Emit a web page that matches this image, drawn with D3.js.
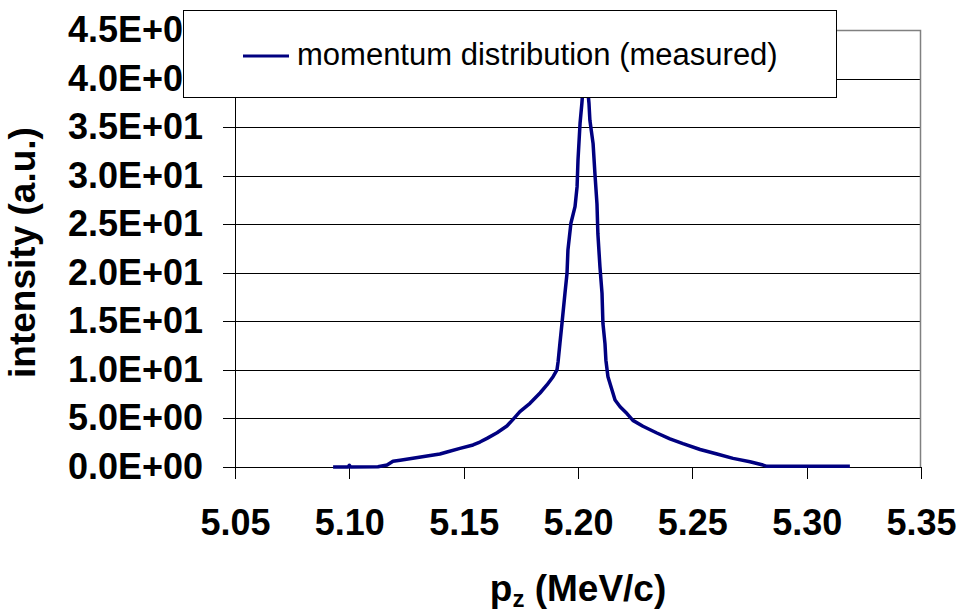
<!DOCTYPE html>
<html>
<head>
<meta charset="utf-8">
<script src="https://cdn.jsdelivr.net/npm/d3@7"></script>
<style>
  body { margin: 0; background: #fff; }
  svg { display: block; font-family: "Liberation Sans", Arial, sans-serif; }
  .tickText { font-size: 36px; font-weight: bold; fill: #000; }
  .axisTitle { font-size: 37px; font-weight: bold; fill: #000; }
  .legendText { font-size: 31px; fill: #000; }
</style>
</head>
<body>
<div id="chart"></div>
<script>
"use strict";

// momentum pz (MeV/c) and measured intensity (a.u.)
let pzValues = [
  5.0929, 5.0995, 5.1000, 5.1005, 5.1125, 5.1165, 5.1191, 5.1222, 5.1278, 5.1340,
  5.1396, 5.1427, 5.1484, 5.1541, 5.1571, 5.1602, 5.1646, 5.1689, 5.1716, 5.1746,
  5.1790, 5.1834, 5.1864, 5.1891, 5.1908, 5.1913, 5.1921, 5.1930, 5.1943, 5.1952,
  5.1956, 5.1969, 5.1987, 5.1996, 5.2000, 5.2009, 5.2017, 5.2031, 5.2048, 5.2052,
  5.2066, 5.2074, 5.2083, 5.2087, 5.2096, 5.2105, 5.2109, 5.2118, 5.2122, 5.2131,
  5.2149, 5.2162, 5.2184, 5.2214, 5.2240, 5.2284, 5.2345, 5.2402, 5.2459, 5.2534,
  5.2608, 5.2678, 5.2752, 5.2809, 5.2826, 5.2971, 5.3189
];

let intensityValues = [
  0.00, 0.00, 0.18, 0.00, 0.03, 0.20, 0.60, 0.70, 0.90, 1.13,
  1.34, 1.54, 1.92, 2.27, 2.57, 2.95, 3.53, 4.22, 4.91, 5.70,
  6.56, 7.62, 8.45, 9.30, 9.99, 10.85, 12.74, 14.80, 17.89, 19.95,
  22.35, 25.10, 26.81, 28.87, 31.62, 35.40, 37.46, 42.00, 37.46, 35.70,
  33.30, 30.20, 27.10, 24.00, 20.60, 17.90, 14.80, 12.70, 11.00, 9.30,
  7.90, 6.90, 6.20, 5.50, 4.80, 4.20, 3.50, 2.90, 2.40, 1.80,
  1.34, 0.89, 0.54, 0.20, 0.07, 0.07, 0.07
];

let xTickValues = [5.05, 5.10, 5.15, 5.20, 5.25, 5.30, 5.35];
let xTickLabels = ["5.05", "5.10", "5.15", "5.20", "5.25", "5.30", "5.35"];

let yTickValues = [0, 5, 10, 15, 20, 25, 30, 35, 40, 45];
let yTickLabels = ["0.0E+00", "5.0E+00", "1.0E+01", "1.5E+01", "2.0E+01",
  "2.5E+01", "3.0E+01", "3.5E+01", "4.0E+01", "4.5E+01"];

let seriesName = "momentum distribution (measured)";
let xTitle = "p";
let xTitleSub = "z";
let xTitleRest = " (MeV/c)";
let yTitle = "intensity (a.u.)";

let lineColor = "#000080";

function drawChart() {
  let width = 961;
  let height = 616;

  let plot = {
    left: 235,
    top: 30,
    width: 686,
    height: 437
  };

  let svg = d3.select("#chart").append("svg")
    .attr("width", width)
    .attr("height", height)
    .attr("viewBox", [0, 0, width, height].join(" "));

  let x = d3.scaleLinear()
    .domain([5.05, 5.35])
    .range([0, plot.width]);

  let y = d3.scaleLinear()
    .domain([0, 45])
    .range([plot.height, 0]);

  let g = svg.append("g")
    .attr("transform", `translate(${plot.left}, ${plot.top})`);

  // horizontal gridlines
  let grid = g.append("g")
    .call(d3.axisLeft(y)
      .tickValues(yTickValues.slice(1))
      .tickSize(-plot.width)
      .tickFormat(""));
  grid.select(".domain").remove();
  grid.selectAll(".tick line")
    .attr("stroke", "#000")
    .attr("shape-rendering", "crispEdges");

  // plot area border (top and right, gray)
  g.append("path")
    .attr("d", `M0,0.5H${plot.width - 0.5}V${plot.height}`)
    .attr("fill", "none")
    .attr("stroke", "#808080")
    .attr("stroke-width", 1.5);

  // y axis
  let yAxis = g.append("g")
    .call(d3.axisLeft(y)
      .tickValues(yTickValues)
      .tickSize(12)
      .tickPadding(20)
      .tickFormat((d, i) => yTickLabels[i]));
  yAxis.select(".domain")
    .attr("stroke", "#000")
    .attr("shape-rendering", "crispEdges");
  yAxis.selectAll(".tick line")
    .attr("shape-rendering", "crispEdges");
  yAxis.selectAll("text")
    .attr("class", "tickText");
  yAxis.attr("font-size", null).attr("font-family", null);

  // x axis
  let xAxis = g.append("g")
    .attr("transform", `translate(0, ${plot.height})`)
    .call(d3.axisBottom(x)
      .tickValues(xTickValues)
      .tickSize(12)
      .tickPadding(30)
      .tickFormat((d, i) => xTickLabels[i]));
  xAxis.select(".domain")
    .attr("stroke", "#000")
    .attr("shape-rendering", "crispEdges");
  xAxis.selectAll(".tick line")
    .attr("shape-rendering", "crispEdges");
  xAxis.selectAll("text")
    .attr("class", "tickText");
  xAxis.attr("font-size", null).attr("font-family", null);

  // data line
  let data = pzValues.map((d, i) => ({ pz: d, value: intensityValues[i] }));

  let line = d3.line()
    .x(d => x(d.pz))
    .y(d => y(d.value));

  g.append("path")
    .datum(data)
    .attr("fill", "none")
    .attr("stroke", lineColor)
    .attr("stroke-width", 3.5)
    .attr("stroke-linejoin", "round")
    .attr("d", line);

  // axis titles
  let xLabel = svg.append("text")
    .attr("class", "axisTitle")
    .attr("x", plot.left + plot.width / 2)
    .attr("y", 601)
    .style("text-anchor", "middle");
  xLabel.append("tspan").text(xTitle);
  xLabel.append("tspan")
    .attr("dy", 6)
    .style("font-size", "24px")
    .text(xTitleSub);
  xLabel.append("tspan")
    .attr("dy", -6)
    .text(xTitleRest);

  svg.append("text")
    .attr("class", "axisTitle")
    .attr("transform", `translate(35, ${plot.top + plot.height / 2 + 4}) rotate(-90)`)
    .style("text-anchor", "middle")
    .text(yTitle);

  // legend (drawn last, covers the top of the peak and labels)
  let legend = svg.append("g")
    .attr("transform", "translate(183, 10)");

  legend.append("rect")
    .attr("x", 0.5)
    .attr("y", 0.5)
    .attr("width", 653)
    .attr("height", 87)
    .attr("fill", "#fff")
    .attr("stroke", "#000")
    .attr("stroke-width", 1);

  legend.append("line")
    .attr("x1", 60)
    .attr("x2", 106)
    .attr("y1", 46)
    .attr("y2", 46)
    .attr("stroke", lineColor)
    .attr("stroke-width", 3);

  legend.append("text")
    .attr("class", "legendText")
    .attr("x", 114)
    .attr("y", 55)
    .text(seriesName);
}

drawChart();
</script>
</body>
</html>
